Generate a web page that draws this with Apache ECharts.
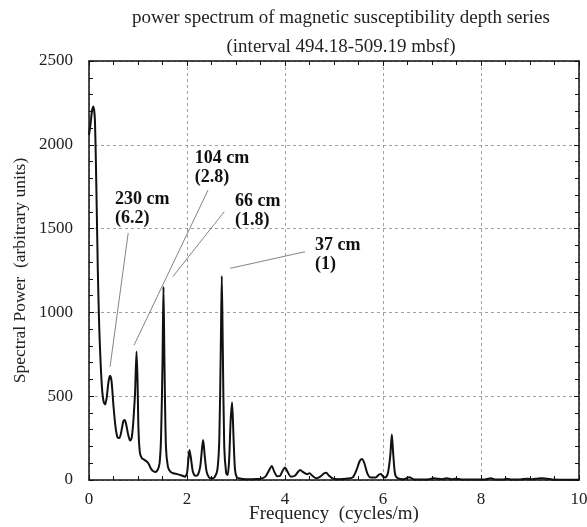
<!DOCTYPE html>
<html>
<head>
<meta charset="utf-8">
<script src="https://cdn.jsdelivr.net/npm/echarts@6/dist/echarts.min.js"></script>
<style>html,body{margin:0;padding:0;background:#fff}#c{width:587px;height:527px}</style>
</head>
<body>
<div id="c"></div>
<script>
const titleLines = ['power spectrum of magnetic susceptibility depth series', '(interval 494.18-509.19 mbsf)'];
const xAxisName = 'Frequency  (cycles/m)';
const yAxisName = 'Spectral Power  (arbitrary units)';

const freq = [0.00,0.03,0.06,0.09,0.12,0.15,0.18,0.21,0.24,0.27,0.30,0.33,0.36,0.40,0.43,0.46,0.50,0.54,0.58,0.62,0.66,0.70,0.73,0.76,0.80,0.84,0.87,0.90,0.92,0.94,0.97,0.99,1.01,1.04,1.08,1.13,1.18,1.22,1.26,1.30,1.35,1.40,1.44,1.47,1.50,1.52,1.54,1.57,1.61,1.66,1.72,1.80,1.88,1.96,2.00,2.03,2.05,2.08,2.12,2.17,2.22,2.27,2.31,2.33,2.36,2.40,2.45,2.50,2.56,2.62,2.66,2.69,2.71,2.73,2.76,2.80,2.83,2.86,2.89,2.92,2.95,2.98,3.02,3.10,3.20,3.30,3.40,3.50,3.60,3.67,3.73,3.78,3.84,3.90,3.96,4.00,4.05,4.12,4.20,4.31,4.38,4.45,4.50,4.56,4.64,4.72,4.80,4.84,4.90,4.98,5.10,5.25,5.38,5.46,5.52,5.57,5.62,5.68,5.75,5.85,5.92,5.96,6.00,6.05,6.10,6.15,6.18,6.21,6.25,6.32,6.42,6.54,6.62,6.80,6.95,7.03,7.10,7.20,7.30,7.40,7.48,7.60,7.80,8.05,8.20,8.30,8.45,8.52,8.60,8.80,8.95,9.05,9.15,9.25,9.35,9.45,9.60,9.80,10.00];
const power = [2060,2120,2200,2228,2150,1750,1250,900,680,530,465,450,490,590,622,590,440,320,255,250,290,350,358,330,270,235,250,330,420,520,766,600,300,160,130,120,110,95,70,55,48,60,100,250,700,1153,700,200,80,50,40,35,28,20,40,130,179,130,50,25,30,80,200,239,150,50,15,10,15,60,250,800,1217,800,200,40,30,120,350,463,250,60,15,8,5,5,6,8,20,55,84,50,22,25,60,75,50,20,25,60,45,35,40,25,10,20,40,44,25,8,5,8,15,60,110,125,100,40,15,15,33,36,20,15,40,150,272,150,30,8,5,16,5,3,5,10,8,5,10,5,8,3,3,3,10,3,3,8,3,3,8,5,8,10,8,3,2,2,2];

// annotations: label lines, text anchor (left, first-line centre) and leader line ends, in data units
const annoLines1 = ['230 cm', '104 cm', '66 cm', '37 cm'];
const annoLines2 = ['(6.2)', '(2.8)', '(1.8)', '(1)'];
const annoTextX = [0.53, 2.16, 2.98, 4.61];
const annoTextY = [1677, 1921, 1665, 1402];
const leaderFrom = [[0.80,1474],[2.43,1730],[2.76,1601],[4.41,1362]];
const leaderTo = [[0.43,676],[0.92,805],[1.71,1213],[2.88,1263]];

const FONT = 'Liberation Serif';
const chart = echarts.init(document.getElementById('c'), null, {renderer: 'canvas'});

const axisLineStyle = {show: true, onZero: false, lineStyle: {color: '#111', width: 1.5}};
const tickStyle = {show: true, inside: true, length: 5, lineStyle: {color: '#111', width: 1}};
const xMinor = {show: true, splitNumber: 4, length: 4, lineStyle: {color: '#111', width: 1}};
const yMinor = {show: true, splitNumber: 5, length: 4, lineStyle: {color: '#111', width: 1}};
const plainFmt = v => String(v);

chart.setOption({
  animation: false,
  backgroundColor: '#fff',
  title: {
    text: titleLines.join('\n'),
    left: 336, top: -1, textAlign: 'center',
    textStyle: {fontFamily: FONT, fontWeight: 'normal', fontSize: 19, color: '#222', lineHeight: 29}
  },
  grid: {left: 89, right: 8, top: 61, bottom: 47, containLabel: false, outerBoundsMode: 'none'},
  xAxis: [{
    type: 'value', min: 0, max: 10, interval: 2, position: 'bottom',
    name: xAxisName, nameLocation: 'middle', nameGap: 25, nameMoveOverlap: false,
    nameTextStyle: {fontFamily: FONT, fontSize: 19, color: '#222'},
    axisLabel: {fontFamily: FONT, fontSize: 17, color: '#222', margin: 11, formatter: plainFmt},
    splitLine: {show: true, lineStyle: {type: [3, 3], color: '#888', width: 0.8}},
    axisLine: axisLineStyle, axisTick: tickStyle, minorTick: xMinor
  }, {
    type: 'value', min: 0, max: 10, interval: 2, position: 'top',
    axisLabel: {show: false}, splitLine: {show: false},
    axisLine: axisLineStyle, axisTick: tickStyle, minorTick: xMinor
  }],
  yAxis: [{
    type: 'value', min: 0, max: 2500, interval: 500, position: 'left',
    name: yAxisName, nameLocation: 'middle', nameGap: 60, nameMoveOverlap: false,
    nameTextStyle: {fontFamily: FONT, fontSize: 17.5, color: '#222'},
    axisLabel: {fontFamily: FONT, fontSize: 17, color: '#222', margin: 16, formatter: plainFmt},
    splitLine: {show: true, lineStyle: {type: [3, 3], color: '#888', width: 0.8}},
    axisLine: axisLineStyle, axisTick: tickStyle, minorTick: yMinor
  }, {
    type: 'value', min: 0, max: 2500, interval: 500, position: 'right',
    axisLabel: {show: false}, splitLine: {show: false},
    axisLine: axisLineStyle, axisTick: tickStyle, minorTick: yMinor
  }],
  series: [{
    type: 'line',
    xAxisIndex: 0, yAxisIndex: 0,
    data: freq.map((f, i) => [f, power[i]]),
    showSymbol: false,
    smooth: 0.25,
    lineStyle: {color: '#111', width: 2},
    markLine: {
      silent: true,
      symbol: ['none', 'none'],
      label: {show: false},
      lineStyle: {color: '#666', width: 0.8, type: 'solid'},
      data: leaderFrom.map((p, i) => [{coord: p}, {coord: leaderTo[i]}])
    }
  }]
});

const texts = [];
annoLines1.forEach((t, i) => {
  const p = chart.convertToPixel({xAxisIndex: 0, yAxisIndex: 0}, [annoTextX[i], annoTextY[i]]);
  texts.push({type: 'text', x: p[0], y: p[1], style: {text: t, font: 'bold 18px "Liberation Serif"', fill: '#111', textVerticalAlign: 'middle'}});
  texts.push({type: 'text', x: p[0], y: p[1] + 19, style: {text: annoLines2[i], font: 'bold 18px "Liberation Serif"', fill: '#111', textVerticalAlign: 'middle'}});
});
chart.setOption({graphic: texts});
</script>
</body>
</html>
